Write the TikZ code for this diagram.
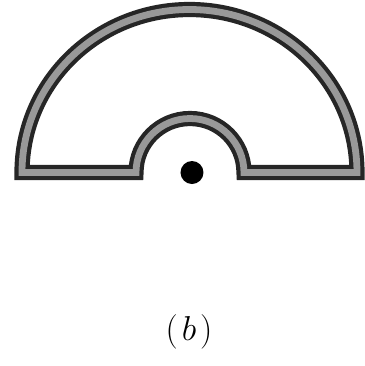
\documentclass[tikz,border=0pt]{standalone}
\begin{document}
\begin{tikzpicture}[x=0.5pt,y=-0.5pt,
  wall/.style={draw=black!85, line width=2.1pt, double=black!40, double distance=3.4pt},
  lbl/.style={inner sep=0pt, font=\fontsize{18}{22}\selectfont}]
\useasboundingbox (0,0) rectangle (365,366);
\draw[wall] (22,172.5) arc[start angle=180, end angle=360, x radius=167.5, y radius=163]
  -- (244,172.5) arc[start angle=0, end angle=-180, radius=54]
  -- cycle;
\fill[black] (192,172.5) circle[radius=11.5];
\node[lbl] (label) at (189,332) {$(\mkern2mu b\mkern2mu)$};
\end{tikzpicture}
\end{document}
